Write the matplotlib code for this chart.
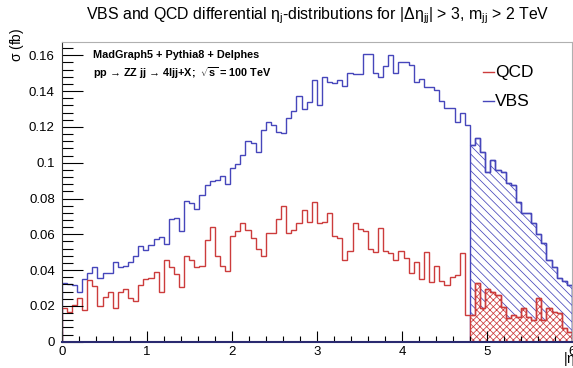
import numpy as np
import matplotlib
matplotlib.use("Agg")
import matplotlib.pyplot as plt

# |eta_j| binning: 100 bins over [0, 6]
ETA_MIN, ETA_MAX, N_BINS = 0.0, 6.0, 100
ETA_CUT = 4.8

vbs_xsec = [
    0.0326, 0.0324, 0.0318, 0.0276, 0.0350, 0.0386, 0.0419, 0.0354, 0.0382, 0.0384,
    0.0443, 0.0416, 0.0425, 0.0443, 0.0479, 0.0536, 0.0512, 0.0540, 0.0575, 0.0583,
    0.0546, 0.0684, 0.0689, 0.0620, 0.0788, 0.0775, 0.0740, 0.0820, 0.0875, 0.0895,
    0.0905, 0.0927, 0.0881, 0.0972, 0.0990, 0.1045, 0.1120, 0.1110, 0.1060, 0.1180,
    0.1230, 0.1210, 0.1170, 0.1165, 0.1250, 0.1290, 0.1370, 0.1300, 0.1340, 0.1460,
    0.1320, 0.1480, 0.1453, 0.1447, 0.1460, 0.1430, 0.1500, 0.1494, 0.1494, 0.1610,
    0.1610, 0.1500, 0.1477, 0.1540, 0.1600, 0.1500, 0.1560, 0.1560, 0.1546, 0.1453,
    0.1466, 0.1425, 0.1421, 0.1406, 0.1346, 0.1304, 0.1304, 0.1229, 0.1276, 0.1211,
    0.1099, 0.1136, 0.1060, 0.0950, 0.1015, 0.0959, 0.0950, 0.0885, 0.0876, 0.0782,
    0.0717, 0.0717, 0.0661, 0.0600, 0.0550, 0.0456, 0.0419, 0.0354, 0.0340, 0.0317,
]

qcd_xsec = [
    0.0190, 0.0164, 0.0205, 0.0242, 0.0177, 0.0345, 0.0311, 0.0199, 0.0251, 0.0279,
    0.0190, 0.0279, 0.0293, 0.0242, 0.0227, 0.0317, 0.0352, 0.0354, 0.0391, 0.0276,
    0.0456, 0.0416, 0.0376, 0.0304, 0.0479, 0.0456, 0.0416, 0.0423, 0.0568, 0.0642,
    0.0479, 0.0423, 0.0395, 0.0593, 0.0620, 0.0661, 0.0622, 0.0578, 0.0520, 0.0479,
    0.0610, 0.0605, 0.0686, 0.0758, 0.0610, 0.0624, 0.0661, 0.0736, 0.0668, 0.0782,
    0.0661, 0.0670, 0.0721, 0.0593, 0.0580, 0.0456, 0.0505, 0.0661, 0.0628, 0.0618,
    0.0516, 0.0500, 0.0633, 0.0505, 0.0497, 0.0456, 0.0505, 0.0466, 0.0382, 0.0447,
    0.0349, 0.0503, 0.0335, 0.0423, 0.0341, 0.0317, 0.0360, 0.0373, 0.0494, 0.0149,
    0.0149, 0.0326, 0.0187, 0.0293, 0.0279, 0.0261, 0.0196, 0.0131, 0.0149, 0.0140,
    0.0187, 0.0140, 0.0121, 0.0242, 0.0121, 0.0187, 0.0168, 0.0159, 0.0075, 0.0056,
]

y_ticks = [0, 0.02, 0.04, 0.06, 0.08, 0.10, 0.12, 0.14, 0.16]
x_ticks = [0, 1, 2, 3, 4, 5, 6]

BLUE = "#4646bb"
RED = "#cc3c3c"

W, H = 573, 368


def px(x, y):
    """Pixel position (from top-left) to figure fraction."""
    return x / W, 1 - y / H


def main():
    plt.rcParams.update({
        "font.family": ["Liberation Sans", "DejaVu Sans"],
        "mathtext.fontset": "custom",
        "mathtext.rm": "Liberation Sans",
        "mathtext.it": "Liberation Sans",
        "mathtext.bf": "Liberation Sans:bold",
        "hatch.linewidth": 0.55,
    })

    edges = np.linspace(ETA_MIN, ETA_MAX, N_BINS + 1)
    vbs = np.array(vbs_xsec)
    qcd = np.array(qcd_xsec)
    cut = int(np.argmin(np.abs(edges - ETA_CUT)))

    fig = plt.figure(figsize=(W / 100, H / 100), dpi=100)
    l, b = px(61.7, 341.7)
    r, t = px(572, 41.7)
    ax = fig.add_axes([l, b, r - l, t - b])

    # hatched tails beyond the cut
    ax.stairs(vbs[cut:], edges[cut:], fill=True, facecolor="none",
              edgecolor=BLUE, hatch="\\\\\\\\", lw=1.0)
    ax.stairs(qcd[cut:], edges[cut:], fill=True, facecolor="white",
              edgecolor=RED, hatch="xxxxx", lw=1.0)

    ax.stairs(vbs, edges, color=BLUE, lw=1.0)
    ax.stairs(qcd, edges, color=RED, lw=1.0)

    ax.set_xlim(ETA_MIN, ETA_MAX)
    ax.set_ylim(0, 0.1676)

    ax.set_xticks(x_ticks)
    ax.set_xticklabels([str(v) for v in x_ticks], fontsize=9.5)
    ax.set_xticks(np.arange(0, 6.01, 0.2), minor=True)
    ax.set_yticks(y_ticks)
    ax.set_yticklabels([f"{v:g}" for v in y_ticks], fontsize=9.5)
    ax.set_yticks(np.arange(0, 0.1676, 0.004), minor=True)
    ax.tick_params(axis="x", which="major", direction="in", length=8, width=0.8,
                   pad=3, top=False)
    ax.tick_params(axis="x", which="minor", direction="in", length=4, width=0.8, top=False)
    ax.tick_params(axis="y", which="major", direction="in", length=15, width=0.8,
                   pad=5, right=False)
    ax.tick_params(axis="y", which="minor", direction="in", length=8, width=0.8, right=False)

    for side in ("top", "right"):
        ax.spines[side].set_color("#b0b0b0")
        ax.spines[side].set_linewidth(0.8)
    ax.spines["left"].set_color("#333333")
    ax.spines["left"].set_linewidth(0.8)
    ax.spines["bottom"].set_color("#2a2a70")
    ax.spines["bottom"].set_linewidth(1.5)

    fig.text(*px(318, 16),
             r"VBS and QCD differential $\eta_{j}$-distributions for "
             r"$|\Delta\eta_{jj}|$ > 3, m$_{jj}$ > 2 TeV",
             ha="center", va="center", fontsize=11.4)

    fig.text(*px(17, 28), r"$\sigma$ (fb)", rotation=90, ha="center", va="top",
             fontsize=10)
    # axis title sits under the last tick label, partly past the canvas edge
    fig.text(*px(563, 351), r"|$\eta_{j}$|", ha="left", va="top", fontsize=10)

    fig.text(*px(93, 55), "MadGraph5 + Pythia8 + Delphes", ha="left", va="center",
             fontsize=7.8, fontweight="bold")
    fig.text(*px(93, 73), "pp \u2192 ZZ jj \u2192 4ljj+X;  " r"$\sqrt{\mathbf{s}}$ = 100 TeV",
             ha="left", va="center", fontsize=7.8, fontweight="bold")

    # legend entries
    for label, color, y in (("QCD", RED, 72), ("VBS", BLUE, 101)):
        x0, y0 = px(483, y)
        x1, _ = px(494, y)
        fig.add_artist(plt.Line2D([x0, x1], [y0, y0], color=color, lw=1.0,
                                  transform=fig.transFigure))
        fig.text(*px(495, y), label, ha="left", va="center", fontsize=12.5)

    fig.savefig("out.png", dpi=100)
    plt.close(fig)


if __name__ == "__main__":
    main()
